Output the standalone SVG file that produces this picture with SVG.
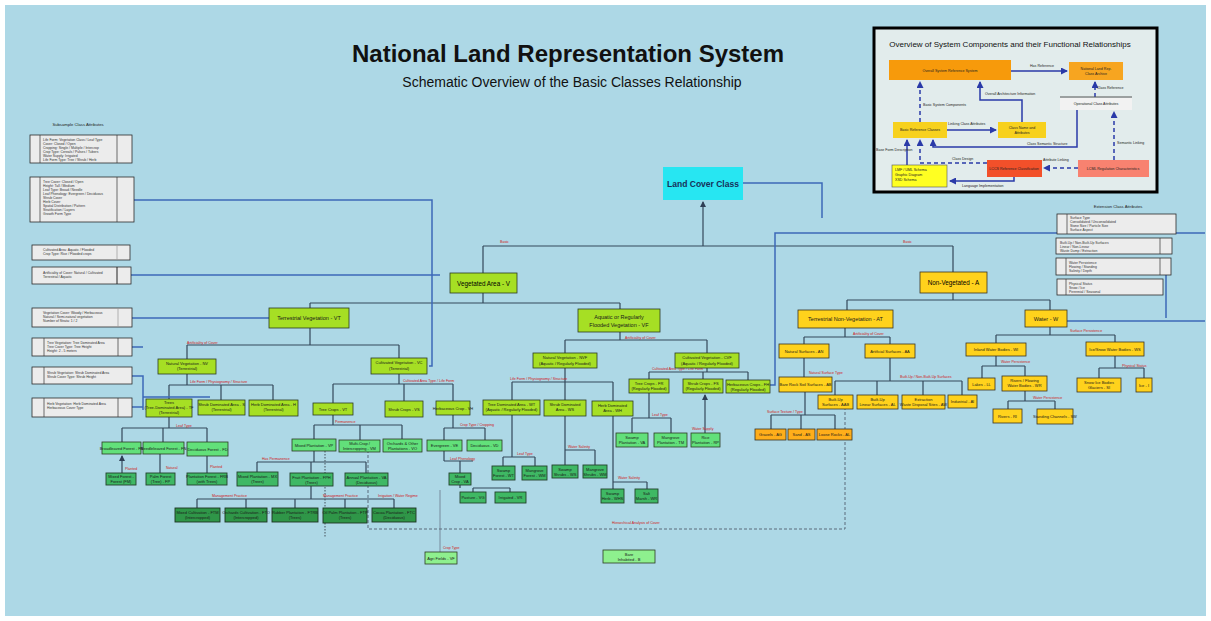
<svg xmlns="http://www.w3.org/2000/svg" width="1211" height="621" viewBox="0 0 1211 621">
<defs>
<marker id="ah" markerWidth="6" markerHeight="6" refX="5" refY="3" orient="auto" markerUnits="userSpaceOnUse"><path d="M0,0 L6,3 L0,6 z" fill="#2f3f55"/></marker>
<marker id="ib" markerWidth="7" markerHeight="7" refX="6" refY="3.5" orient="auto" markerUnits="userSpaceOnUse"><path d="M0,0 L7,3.5 L0,7 z" fill="#2a3aa8"/></marker>
<style>
text{font-family:"Liberation Sans",Arial,sans-serif;}
.n{font-size:4px;text-anchor:middle;fill:#1a1a1a;}
.m{font-size:5.5px;text-anchor:middle;fill:#1a1a1a;}
.lb{font-size:3.6px;fill:#d01818;}
.lt{font-size:3.4px;fill:#333;}
.yg{fill:#a6df24;stroke:#2c3a22;stroke-width:0.8;}
.g2{fill:#62e07a;stroke:#2c3a22;stroke-width:0.8;}
.g3{fill:#3fb864;stroke:#23402a;stroke-width:0.9;}
.g4{fill:#2f9648;stroke:#1d3322;stroke-width:0.9;}
.g5{fill:#8ef08e;stroke:#2c3a22;stroke-width:0.8;}
.y{fill:#ffd21c;stroke:#3a3320;stroke-width:0.8;}
.o{fill:#ffae1a;stroke:#3a3320;stroke-width:0.8;}
.lg{fill:#ececec;stroke:#2b2b2b;stroke-width:0.8;}
.c{fill:none;stroke:#34485a;stroke-width:1.2;}
.b{fill:none;stroke:#3c68b8;stroke-width:1.5;}
.d{fill:none;stroke:#5a6a7a;stroke-width:1;stroke-dasharray:3 2;}
.ib{fill:none;stroke:#2a3aa8;stroke-width:1.5;}
.ibd{fill:none;stroke:#2a3aa8;stroke-width:1.5;stroke-dasharray:4 3;}
.it{font-size:3.6px;fill:#222;}
</style>
</defs>
<rect width="1211" height="621" fill="#ffffff"/>
<rect x="5" y="5" width="1201" height="611" fill="#add8e6"/>

<g id="title">
<text x="568" y="62" font-size="24" font-weight="bold" text-anchor="middle" fill="#111">National Land Representation System</text>
<text x="572" y="87" font-size="14" text-anchor="middle" fill="#111">Schematic Overview of the Basic Classes Relationship</text>
</g>

<g id="inset">
<rect x="874" y="28" width="283" height="164" fill="#e2ecec" stroke="#000" stroke-width="3"/>
<text x="1010" y="47" font-size="8" text-anchor="middle" fill="#111">Overview of System Components and their Functional Relationships</text>
<g id="in-connectors">
<path class="ib" d="M1011 71H1067" marker-end="url(#ib)"/>
<path class="ibd" d="M920 122V82" marker-end="url(#ib)"/>
<path class="ib" d="M1022 122V100H980V82" marker-end="url(#ib)"/>
<path class="ib" d="M947 130H996" marker-end="url(#ib)"/>
<path class="ib" d="M1077 110V147H933V140" marker-end="url(#ib)"/>
<path class="ibd" d="M1095 97V82" marker-end="url(#ib)"/>
<path class="ibd" d="M1114 160V112" marker-end="url(#ib)"/>
<path class="ibd" d="M1078 168H1044" marker-end="url(#ib)"/>
<path class="ibd" d="M987 163H920V140" marker-end="url(#ib)"/>
<path class="ib" d="M907 165V140" marker-end="url(#ib)"/>
<path class="ib" d="M1014 177V181H950" marker-end="url(#ib)"/>
<line x1="1060" y1="97" x2="1132" y2="97" stroke="#555" stroke-width="1"/>
</g>
<text class="it" x="1030" y="67">Has Reference</text>
<text class="it" x="923" y="106">Basic System Components</text>
<text class="it" x="985" y="95">Overall Architecture Information</text>
<text class="it" x="948" y="125">Linking Class Attributes</text>
<text class="it" x="1027" y="145">Class Semantic Structure</text>
<text class="it" x="1097" y="89">Class Reference</text>
<text class="it" x="1117" y="144">Semantic Linking</text>
<text class="it" x="1043" y="161">Attribute Linking</text>
<text class="it" x="952" y="160">Class Design</text>
<text class="it" x="876" y="151">Base Form Description</text>
<text class="it" x="962" y="187">Language Implementation</text>
<g id="in-overall"><rect x="889" y="60" width="122" height="20" fill="#f79a0b"/><text class="it" x="950" y="72" text-anchor="middle">Overall System Reference System</text></g>
<g id="in-national"><rect x="1069" y="62" width="54" height="18" fill="#f7a520"/><text class="it" x="1096" y="70" text-anchor="middle">National Land Rep.</text><text class="it" x="1096" y="75" text-anchor="middle">Class Archive</text></g>
<g id="in-oper"><rect x="1060" y="98" width="72" height="12" fill="#f2f2f2"/><text class="it" x="1096" y="105" text-anchor="middle">Operational Class Attributes</text></g>
<g id="in-basic"><rect x="893" y="122" width="54" height="16" fill="#f7d11e"/><text class="it" x="920" y="131" text-anchor="middle">Basic Reference Classes</text></g>
<g id="in-classname"><rect x="998" y="122" width="48" height="16" fill="#f7d11e"/><text class="it" x="1022" y="129" text-anchor="middle">Class Name and</text><text class="it" x="1022" y="134" text-anchor="middle">Attributes</text></g>
<g id="in-lccs"><rect x="987" y="160" width="55" height="17" fill="#f2502a"/><text class="it" x="1014" y="170" text-anchor="middle">LCCS Reference Classification</text></g>
<g id="in-lcml"><rect x="1078" y="160" width="71" height="17" fill="#f88270"/><text class="it" x="1113" y="170" text-anchor="middle">LCML Regulation Characteristics</text></g>
<g id="in-lmf"><rect x="892" y="165" width="55" height="22" fill="#ffff22" stroke="#555" stroke-width="0.6"/><text class="it" x="895" y="171">LMF / UML Schema</text><text class="it" x="895" y="176">Graphic Diagram</text><text class="it" x="895" y="181">XSD Schema</text></g>
</g>

<g id="connectors">
<path class="c" d="M703 246V202" marker-end="url(#ah)"/>
<path class="c" d="M483 246H953M483 246V273M953 246V272"/>
<path class="c" d="M483 293V303M310 303H620M310 303V308M620 303V309"/>
<path class="c" d="M953 293V300M847 300H1050M847 300V310M1050 300V310"/>
<path class="c" d="M310 328V345M187 345H399M187 345V359M399 345V358"/>
<path class="c" d="M187 374V385M169 385H273M169 385V399M221 385V400M273 385V400"/>
<path class="c" d="M399 374V384M333 384H453M333 384V403M404 384V401M453 384V401"/>
<path class="c" d="M169 417V428M122 428H207M122 428V442M163 428V442M207 428V442"/>
<path class="c" d="M122 473V456" marker-end="url(#ah)"/>
<path class="c" d="M160 454V473M207 456V473"/>
<path class="c" d="M333 415V425M314 425H402M314 425V439M360 425V440M402 425V439"/>
<path class="c" d="M314 451V462M257 462H366M257 462V472M311 462V473M366 462V473"/>
<path class="c" d="M311 486V499M197 499H394M197 499V508M246 499V508M295 499V508M345 499V508M394 499V508"/>
<path class="c" d="M453 415V428M444 428H485M444 428V440M485 428V440M444 451V461M444 461H473M460 461V473M460 485V488M473 488H510M473 488V492M510 488V492"/>
<path class="c" d="M620 332V340M565 340H707M565 340V353M707 340V353"/>
<path class="c" d="M565 368V382M512 382H613M512 382V400M565 382V400M613 382V401"/>
<path class="c" d="M512 415V457M503 457H535M503 457V466M535 457V466"/>
<path class="c" d="M565 416V450M565 450H595M565 450V465M595 450V465"/>
<path class="c" d="M613 416V482M613 482H647M613 482V489M647 482V489"/>
<path class="c" d="M707 368V372M649 372H748M649 372V379M703 372V379M748 372V380"/>
<path class="c" d="M649 393V418M632 418H671M632 418V433M671 418V433"/>
<path class="c" d="M705 433V395" marker-end="url(#ah)"/>
<path class="c" d="M845 328V337M804 337H890M804 337V344M890 337V344M804 358V377"/>
<path class="c" d="M805 392V415M771 415H835M771 415V429M801 415V429M835 415V429"/>
<path class="c" d="M890 358V381M835 381H962M835 381V395M877 381V395M923 381V395M962 381V395"/>
<path class="c" d="M1050 327V335M996 335H1115M996 335V343M1115 335V342"/>
<path class="c" d="M996 356V366M982 366H1025M982 366V378M1025 366V376"/>
<path class="c" d="M1025 391V401M1008 401H1055M1008 401V409M1055 401V409"/>
<path class="c" d="M1115 356V368M1099 368H1144M1099 368V378M1144 368V378"/>
<path d="M440 490V552" stroke="#6a7a8a" stroke-width="0.8" fill="none"/>
<path class="d" d="M368 445V529H845V408"/>
<path d="M325 445V537" stroke="#44505a" stroke-width="1" stroke-dasharray="1.5 1.5" fill="none"/>
<path class="b" d="M132 200H432V366H429"/>
<path class="b" d="M131 275H440"/>
<path class="b" d="M132 318H269"/>
<path class="b" d="M132 347H143M132 376H143V410M143 397H210M132 407H143"/>
<path class="b" d="M743 183H822V218"/>
<path class="b" d="M1205 233H775V385H770"/>
<path class="b" d="M1166 275V318M1067 321H1205"/>
</g>

<g id="labels">
<text class="lb" x="500" y="243">Basic</text>
<text class="lb" x="903" y="243">Basic</text>
<text class="lb" x="187" y="344">Artificiality of Cover</text>
<text class="lb" x="190" y="383">Life Form / Physiognomy / Structure</text>
<text class="lb" x="403" y="382">Cultivated Area Type / Life Form</text>
<text class="lb" x="625" y="339">Artificiality of Cover</text>
<text class="lb" x="510" y="380">Life Form / Physiognomy / Structure</text>
<text class="lb" x="652" y="370">Cultivated Area Type / Life Form</text>
<text class="lb" x="652" y="416">Leaf Type</text>
<text class="lb" x="692" y="430">Water Supply</text>
<text class="lb" x="517" y="455">Leaf Type</text>
<text class="lb" x="568" y="448">Water Salinity</text>
<text class="lb" x="618" y="479">Water Salinity</text>
<text class="lb" x="460" y="426">Crop Type / Cropping</text>
<text class="lb" x="450" y="460">Leaf Phenology</text>
<text class="lb" x="176" y="427">Leaf Type</text>
<text class="lb" x="125" y="470">Planted</text>
<text class="lb" x="166" y="469">Natural</text>
<text class="lb" x="210" y="468">Planted</text>
<text class="lb" x="335" y="423">Permanence</text>
<text class="lb" x="262" y="460">Has Permanence</text>
<text class="lb" x="212" y="497">Management Practice</text>
<text class="lb" x="323" y="497">Management Practice</text>
<text class="lb" x="378" y="497">Irrigation / Water Regime</text>
<text class="lb" x="443" y="549">Crop Type</text>
<text class="lb" x="612" y="524">Hierarchical Analysis of Cover</text>
<text class="lb" x="853" y="335">Artificiality of Cover</text>
<text class="lb" x="809" y="374">Natural Surface Type</text>
<text class="lb" x="767" y="413">Surface Texture / Type</text>
<text class="lb" x="900" y="378">Built-Up / Non-Built-Up Surfaces</text>
<text class="lb" x="1001" y="363">Water Persistence</text>
<text class="lb" x="1033" y="399">Water Persistence</text>
<text class="lb" x="1070" y="332">Surface Persistence</text>
<text class="lb" x="1122" y="367">Physical Status</text>
</g>

<g id="legend-left">
<text x="78" y="126" font-size="4.2" text-anchor="middle" fill="#222">Subsample Class Attributes</text>
<g id="L1"><rect class="lg" x="30" y="135" width="102" height="28"/><path d="M40 135V163M117 135V163" stroke="#333" stroke-width="0.7"/>
<text class="lt" x="43" y="141">Life Form: Vegetation Class / Leaf Type</text><text class="lt" x="43" y="145">Cover: Closed / Open</text><text class="lt" x="43" y="149">Cropping: Single / Multiple / Intercrop</text><text class="lt" x="43" y="153">Crop Type: Cereals / Pulses / Tubers</text><text class="lt" x="43" y="157">Water Supply: Irrigated</text><text class="lt" x="43" y="161">Life Form Type: Tree / Shrub / Herb</text></g>
<g id="L2"><rect class="lg" x="30" y="177" width="104" height="45"/><path d="M40 177V222M117 177V222" stroke="#333" stroke-width="0.7"/>
<text class="lt" x="43" y="183">Tree Cover: Closed / Open</text><text class="lt" x="43" y="187">Height: Tall / Medium</text><text class="lt" x="43" y="191">Leaf Type: Broad / Needle</text><text class="lt" x="43" y="195">Leaf Phenology: Evergreen / Deciduous</text><text class="lt" x="43" y="199">Shrub Cover</text><text class="lt" x="43" y="203">Herb Cover</text><text class="lt" x="43" y="207">Spatial Distribution / Pattern</text><text class="lt" x="43" y="211">Stratification / Layers</text><text class="lt" x="43" y="215">Growth Form Type</text></g>
<g id="L3"><rect class="lg" x="32" y="245" width="98" height="15"/><path d="M117 245V260" stroke="#999" stroke-width="0.7"/>
<text class="lt" x="43" y="251">Cultivated Area: Aquatic / Flooded</text><text class="lt" x="43" y="255">Crop Type: Rice / Flooded crops</text></g>
<g id="L4"><rect class="lg" x="32" y="267" width="99" height="17"/><path d="M117 267V284" stroke="#222" stroke-width="1"/>
<text class="lt" x="43" y="274">Artificiality of Cover: Natural / Cultivated</text><text class="lt" x="43" y="278">Terrestrial / Aquatic</text></g>
<g id="L5"><rect class="lg" x="32" y="308" width="100" height="19"/><path d="M118 308V327" stroke="#999" stroke-width="0.7"/>
<text class="lt" x="43" y="314">Vegetation Cover: Woody / Herbaceous</text><text class="lt" x="43" y="318">Natural / Semi-natural vegetation</text><text class="lt" x="43" y="322">Number of Strata: 1 / 2</text></g>
<g id="L6"><rect class="lg" x="32" y="338" width="100" height="18"/><path d="M44 338V356M118 338V356" stroke="#333" stroke-width="0.7"/>
<text class="lt" x="47" y="344">Tree Vegetation: Tree Dominated Area</text><text class="lt" x="47" y="348">Tree Cover Type: Tree Height</text><text class="lt" x="47" y="352">Height: 2 - 5 meters</text></g>
<g id="L7"><rect class="lg" x="32" y="367" width="100" height="17"/><path d="M44 367V384" stroke="#333" stroke-width="0.7"/>
<text class="lt" x="47" y="374">Shrub Vegetation: Shrub Dominated Area</text><text class="lt" x="47" y="378">Shrub Cover Type: Shrub Height</text></g>
<g id="L8"><rect class="lg" x="32" y="398" width="100" height="19"/><path d="M44 398V417M118 398V417" stroke="#333" stroke-width="0.7"/>
<text class="lt" x="47" y="405">Herb Vegetation: Herb Dominated Area</text><text class="lt" x="47" y="409">Herbaceous Cover Type</text></g>
</g>

<g id="legend-right">
<text x="1118" y="208" font-size="4.2" text-anchor="middle" fill="#222">Extension Class Attributes</text>
<g id="R1"><rect class="lg" x="1057" y="214" width="119" height="20"/><path d="M1067 214V234" stroke="#333" stroke-width="0.7"/>
<text class="lt" x="1070" y="219">Surface Type</text><text class="lt" x="1070" y="223">Consolidated / Unconsolidated</text><text class="lt" x="1070" y="227">Stone Size / Particle Size</text><text class="lt" x="1070" y="231">Surface Aspect</text></g>
<g id="R2"><rect class="lg" x="1056" y="238" width="116" height="16"/><path d="M1160 238V254" stroke="#333" stroke-width="0.7"/>
<text class="lt" x="1060" y="244">Built-Up / Non-Built-Up Surfaces</text><text class="lt" x="1060" y="248">Linear / Non-Linear</text><text class="lt" x="1060" y="252">Waste Dump / Extraction</text></g>
<g id="R3"><rect class="lg" x="1056" y="258" width="115" height="17"/><path d="M1066 258V275M1160 258V275" stroke="#333" stroke-width="0.7"/>
<text class="lt" x="1069" y="264">Water Persistence</text><text class="lt" x="1069" y="268">Flowing / Standing</text><text class="lt" x="1069" y="272">Salinity / Depth</text></g>
<g id="R4"><rect class="lg" x="1057" y="279" width="106" height="16"/><path d="M1066 279V295" stroke="#333" stroke-width="0.7"/>
<text class="lt" x="1069" y="285">Physical Status</text><text class="lt" x="1069" y="289">Snow / Ice</text><text class="lt" x="1069" y="293">Perennial / Seasonal</text></g>
</g>

<g id="lcc"><rect x="663" y="167" width="80" height="33" fill="#27e6f2"/><text x="703" y="187" font-size="8.5" font-weight="bold" text-anchor="middle" fill="#16305a">Land Cover Class</text></g>
<g id="veg"><rect class="yg" x="450" y="273" width="67" height="20"/><text x="483.5" y="285.5" font-size="6.3" text-anchor="middle">Vegetated Area - V</text></g>
<g id="nonveg"><rect class="y" x="920" y="272" width="67" height="21"/><text x="953.5" y="285" font-size="6.3" text-anchor="middle">Non-Vegetated - A</text></g>
<g id="vt"><rect class="yg" x="269" y="308" width="80" height="20"/><text class="m" x="309" y="320">Terrestrial Vegetation - VT</text></g>
<g id="vf"><rect class="yg" x="578" y="309" width="82" height="23"/><text class="m" x="619" y="319">Aquatic or Regularly</text><text class="m" x="619" y="327">Flooded Vegetation - VF</text></g>
<g id="at"><rect class="y" x="798" y="310" width="95" height="18"/><text class="m" x="845.5" y="321">Terrestrial Non-Vegetation - AT</text></g>
<g id="water"><rect class="y" x="1025" y="310" width="42" height="17"/><text class="m" x="1046" y="320.5">Water - W</text></g>

<g id="nvt"><rect class="yg" x="158" y="359" width="58" height="15"/><text class="n" x="187" y="365">Natural Vegetation - NV</text><text class="n" x="187" y="370">(Terrestrial)</text></g>
<g id="vct"><rect class="yg" x="371" y="358" width="56" height="16"/><text class="n" x="399" y="364">Cultivated Vegetation - VC</text><text class="n" x="399" y="370">(Terrestrial)</text></g>
<g id="nva"><rect class="yg" x="533" y="353" width="64" height="15"/><text class="n" x="565" y="359">Natural Vegetation - NVF</text><text class="n" x="565" y="365">(Aquatic / Regularly Flooded)</text></g>
<g id="vca"><rect class="yg" x="675" y="353" width="64" height="15"/><text class="n" x="707" y="359">Cultivated Vegetation - CVF</text><text class="n" x="707" y="365">(Aquatic / Regularly Flooded)</text></g>

<g id="trees"><rect class="yg" x="146" y="399" width="46" height="18"/><text class="n" x="169" y="404">Trees</text><text class="n" x="169" y="409">(Tree-Dominated Area) - TF</text><text class="n" x="169" y="414">(Terrestrial)</text></g>
<g id="shrubs"><rect class="yg" x="198" y="400" width="47" height="15"/><text class="n" x="221.5" y="406">Shrub Dominated Area - S</text><text class="n" x="221.5" y="411">(Terrestrial)</text></g>
<g id="herb"><rect class="yg" x="249" y="400" width="49" height="16"/><text class="n" x="273.5" y="406">Herb Dominated Area - H</text><text class="n" x="273.5" y="411">(Terrestrial)</text></g>
<g id="woody"><rect class="yg" x="313" y="403" width="40" height="12"/><text class="n" x="333" y="410.5">Tree Crops - VT</text></g>
<g id="shrubc"><rect class="yg" x="385" y="401" width="38" height="16"/><text class="n" x="404" y="410.5">Shrub Crops - VS</text></g>
<g id="herbc"><rect class="yg" x="436" y="401" width="34" height="14"/><text class="n" x="453" y="409.5">Herbaceous Crop - VH</text></g>
<g id="wt"><rect class="yg" x="483" y="400" width="57" height="15"/><text class="n" x="511.5" y="406">Tree Dominated Area - WT</text><text class="n" x="511.5" y="411">(Aquatic / Regularly Flooded)</text></g>
<g id="ws"><rect class="yg" x="544" y="400" width="42" height="16"/><text class="n" x="565" y="406">Shrub Dominated</text><text class="n" x="565" y="411">Area - WS</text></g>
<g id="wh"><rect class="yg" x="592" y="401" width="41" height="15"/><text class="n" x="612.5" y="407">Herb Dominated</text><text class="n" x="612.5" y="412">Area - WH</text></g>
<g id="fr"><rect class="yg" x="629" y="379" width="40" height="14"/><text class="n" x="649" y="385">Tree Crops - FR</text><text class="n" x="649" y="390">(Regularly Flooded)</text></g>
<g id="fs"><rect class="yg" x="683" y="379" width="40" height="14"/><text class="n" x="703" y="385">Shrub Crops - FS</text><text class="n" x="703" y="390">(Regularly Flooded)</text></g>
<g id="fh"><rect class="yg" x="726" y="380" width="44" height="13"/><text class="n" x="748" y="385.5">Herbaceous Crops - FH</text><text class="n" x="748" y="390.5">(Regularly Flooded)</text></g>

<g id="fb"><rect class="g2" x="102" y="442" width="39" height="12"/><text class="n" x="121.5" y="449.5">Broadleaved Forest - FB</text></g>
<g id="fn"><rect class="g2" x="143" y="442" width="41" height="12"/><text class="n" x="163.5" y="449.5">Needleleaved Forest - FN</text></g>
<g id="fd"><rect class="g2" x="187" y="442" width="41" height="14" stroke-width="1.2"/><text class="n" x="207.5" y="450.5">Deciduous Forest - FD</text></g>
<g id="mp"><rect class="g2" x="292" y="439" width="44" height="12"/><text class="n" x="314" y="446.5">Mixed Plantation - VP</text></g>
<g id="mc"><rect class="g2" x="339" y="440" width="41" height="12"/><text class="n" x="359.5" y="445">Multi-Crop /</text><text class="n" x="359.5" y="450">Intercropping - VM</text></g>
<g id="oc"><rect class="g2" x="383" y="439" width="39" height="13"/><text class="n" x="402.5" y="444.5">Orchards &amp; Other</text><text class="n" x="402.5" y="449.5">Plantations - VO</text></g>
<g id="ve"><rect class="g2" x="427" y="440" width="35" height="11"/><text class="n" x="444.5" y="447">Evergreen - VE</text></g>
<g id="vd"><rect class="g2" x="467" y="440" width="35" height="11"/><text class="n" x="484.5" y="447">Deciduous - VD</text></g>
<g id="sp"><rect class="g2" x="616" y="433" width="32" height="14"/><text class="n" x="632" y="439">Swamp</text><text class="n" x="632" y="444">Plantation - VA</text></g>
<g id="mg"><rect class="g2" x="654" y="433" width="33" height="14"/><text class="n" x="670.5" y="439">Mangrove</text><text class="n" x="670.5" y="444">Plantation - TM</text></g>
<g id="rp"><rect class="g2" x="691" y="433" width="29" height="14"/><text class="n" x="705.5" y="439">Rice</text><text class="n" x="705.5" y="444">Plantation - RP</text></g>

<g id="mf"><rect class="g3" x="106" y="473" width="30" height="12"/><text class="n" x="121" y="478">Mixed Forest -</text><text class="n" x="121" y="483">Forest (FM)</text></g>
<g id="pf"><rect class="g3" x="146" y="473" width="29" height="12"/><text class="n" x="160.5" y="478">Palm Forest</text><text class="n" x="160.5" y="483">(Tree) - FP</text></g>
<g id="plf"><rect class="g3" x="187" y="473" width="40" height="12"/><text class="n" x="207" y="478">Plantation Forest - FRB</text><text class="n" x="207" y="483">(with Trees)</text></g>
<g id="mxp"><rect class="g3" x="237" y="472" width="41" height="14"/><text class="n" x="257.5" y="478">Mixed Plantation - MX</text><text class="n" x="257.5" y="483">(Trees)</text></g>
<g id="fp"><rect class="g3" x="290" y="473" width="43" height="13"/><text class="n" x="311.5" y="478.5">Fruit Plantation - FPH</text><text class="n" x="311.5" y="483.5">(Trees)</text></g>
<g id="ap"><rect class="g3" x="345" y="473" width="43" height="13"/><text class="n" x="366.5" y="478.5">Annual Plantation - VA</text><text class="n" x="366.5" y="483.5">(Deciduous)</text></g>
<g id="swf"><rect class="g3" x="492" y="466" width="23" height="14"/><text class="n" x="503.5" y="472">Swamp</text><text class="n" x="503.5" y="477">Forest - WT</text></g>
<g id="mgf"><rect class="g3" x="522" y="466" width="25" height="14"/><text class="n" x="534.5" y="472">Mangrove</text><text class="n" x="534.5" y="477">Forest - WM</text></g>
<g id="sws"><rect class="g3" x="552" y="465" width="26" height="13"/><text class="n" x="565" y="470.5">Swamp</text><text class="n" x="565" y="475.5">Shrubs - WS</text></g>
<g id="mgs"><rect class="g3" x="583" y="465" width="24" height="13"/><text class="n" x="595" y="470.5">Mangrove</text><text class="n" x="595" y="475.5">Shrubs - WM</text></g>
<g id="mxc"><rect class="g3" x="449" y="473" width="22" height="12"/><text class="n" x="460" y="478">Mixed</text><text class="n" x="460" y="483">Crop - VA</text></g>
<g id="pas"><rect class="g3" x="460" y="492" width="26" height="11"/><text class="n" x="473" y="499">Pasture - VG</text></g>
<g id="ir"><rect class="g3" x="495" y="492" width="31" height="11"/><text class="n" x="510.5" y="499">Irrigated - VR</text></g>
<g id="swh"><rect class="g3" x="601" y="489" width="23" height="14"/><text class="n" x="612.5" y="495">Swamp</text><text class="n" x="612.5" y="500">Herb - WHS</text></g>
<g id="sm"><rect class="g3" x="635" y="489" width="23" height="14"/><text class="n" x="646.5" y="495">Salt</text><text class="n" x="646.5" y="500">Marsh - WR</text></g>

<g id="ftm"><rect class="g4" x="175" y="508" width="45" height="14"/><text class="n" x="197.5" y="514">Mixed Cultivation - FTM</text><text class="n" x="197.5" y="519">(Intercropped)</text></g>
<g id="fto"><rect class="g4" x="225" y="508" width="42" height="14"/><text class="n" x="246" y="514">Orchards Cultivation - FTO</text><text class="n" x="246" y="519">(Intercropped)</text></g>
<g id="ftr"><rect class="g4" x="272" y="508" width="46" height="14"/><text class="n" x="295" y="514">Rubber Plantation - FTRB</text><text class="n" x="295" y="519">(Trees)</text></g>
<g id="ftp"><rect class="g4" x="323" y="508" width="44" height="15"/><text class="n" x="345" y="514">Oil Palm Plantation - FTP</text><text class="n" x="345" y="519">(Trees)</text></g>
<g id="ftc"><rect class="g4" x="372" y="508" width="44" height="14"/><text class="n" x="394" y="514">Cocoa Plantation - FTC</text><text class="n" x="394" y="519">(Deciduous)</text></g>

<g id="af"><rect class="g5" x="425" y="552" width="32" height="12"/><text class="n" x="441" y="559.5">Agri Fields - VF</text></g>
<g id="bare"><rect class="g5" x="603" y="550" width="52" height="13"/><text class="n" x="629" y="555.5">Bare</text><text class="n" x="629" y="560.5">Inhabited - B</text></g>

<g id="an"><rect class="y" x="779" y="344" width="50" height="14"/><text class="n" x="804" y="352.5">Natural Surfaces - AN</text></g>
<g id="aa"><rect class="y" x="865" y="344" width="50" height="14"/><text class="n" x="890" y="352.5">Artificial Surfaces - AA</text></g>
<g id="wi"><rect class="y" x="966" y="343" width="60" height="13"/><text class="n" x="996" y="351">Inland Water Bodies - WI</text></g>
<g id="wsn"><rect class="y" x="1086" y="342" width="58" height="14"/><text class="n" x="1115" y="350.5">Ice/Snow Water Bodies - WS</text></g>
<g id="ab"><rect class="y" x="779" y="377" width="53" height="15"/><text class="n" x="805.5" y="386">Bare Rock Soil Surfaces - AB</text></g>
<g id="aab"><rect class="y" x="818" y="395" width="35" height="14"/><text class="n" x="835.5" y="401">Built-Up</text><text class="n" x="835.5" y="406">Surfaces - AAB</text></g>
<g id="al"><rect class="y" x="857" y="395" width="41" height="14"/><text class="n" x="877.5" y="401">Built-Up</text><text class="n" x="877.5" y="406">Linear Surfaces - AL</text></g>
<g id="aw"><rect class="y" x="902" y="395" width="43" height="14"/><text class="n" x="923.5" y="401">Extraction</text><text class="n" x="923.5" y="406">Waste Disposal Sites - AW</text></g>
<g id="ai"><rect class="y" x="948" y="395" width="29" height="13"/><text class="n" x="962.5" y="403">Industrial - AI</text></g>
<g id="ll"><rect class="y" x="968" y="378" width="27" height="12"/><text class="n" x="981.5" y="385.5">Lakes - LL</text></g>
<g id="wr"><rect class="y" x="1002" y="376" width="45" height="15"/><text class="n" x="1024.5" y="382">Rivers / Flowing</text><text class="n" x="1024.5" y="387">Water Bodies - WR</text></g>
<g id="ri"><rect class="y" x="993" y="409" width="29" height="14"/><text class="n" x="1007.5" y="417.5">Rivers - RI</text></g>
<g id="sc"><rect class="y" x="1037" y="409" width="36" height="15"/><text class="n" x="1055" y="418">Standing Channels - SW</text></g>
<g id="si"><rect class="y" x="1077" y="378" width="44" height="14"/><text class="n" x="1099" y="384">Snow Ice Bodies</text><text class="n" x="1099" y="389">Glaciers - SI</text></g>
<g id="ice"><rect class="y" x="1136" y="378" width="16" height="14"/><text class="n" x="1144" y="386.5">Ice - I</text></g>
<g id="ag"><rect class="o" x="755" y="429" width="31" height="11"/><text class="n" x="770.5" y="436">Gravels - AG</text></g>
<g id="as"><rect class="o" x="788" y="429" width="27" height="11"/><text class="n" x="801.5" y="436">Sand - AS</text></g>
<g id="alr"><rect class="o" x="817" y="429" width="35" height="11"/><text class="n" x="834.5" y="436">Loose Rocks - AL</text></g>
</svg>
